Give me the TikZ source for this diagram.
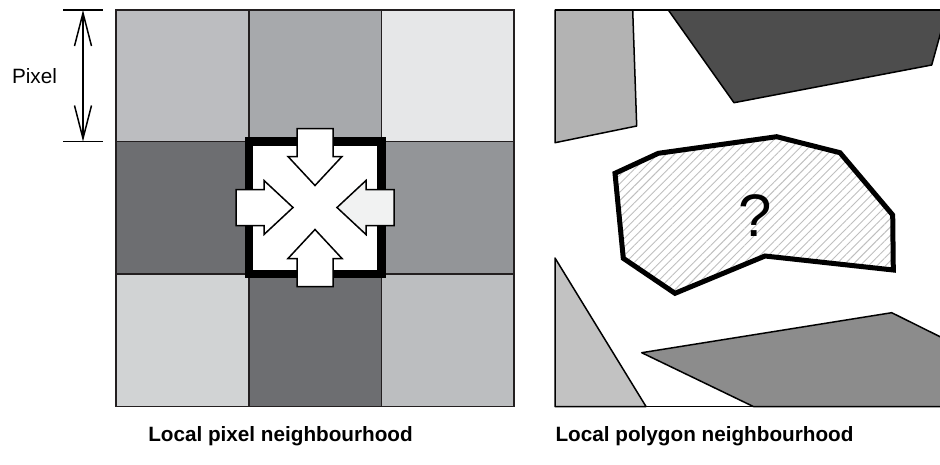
\documentclass[tikz,border=0pt]{standalone}
\usepackage{fontspec}
\setmainfont{Liberation Sans}
\usetikzlibrary{arrows.meta,patterns.meta}

\definecolor{gridline}{HTML}{231F20}
\definecolor{gA}{HTML}{BCBDC0}
\definecolor{gB}{HTML}{A7A9AC}
\definecolor{gC}{HTML}{E6E7E8}
\definecolor{gD}{HTML}{6D6E71}
\definecolor{gE}{HTML}{939598}
\definecolor{gF}{HTML}{D1D3D4}
\definecolor{gG}{HTML}{BCBEC0}
\definecolor{arrowTint}{HTML}{F1F2F2}
\definecolor{polyLight}{HTML}{B3B3B3}
\definecolor{polyLighter}{HTML}{C2C2C2}
\definecolor{polyDark}{HTML}{4D4D4D}
\definecolor{polyMid}{HTML}{8C8C8C}

\begin{document}
\begin{tikzpicture}[x=1pt,y=-1pt,
  cell/.style={draw=gridline, line width=1.5pt},
  blockarrow/.style={draw=black, fill=white, line width=1.5pt, line join=miter},
  poly/.style={draw=black, line width=1.5pt, line join=round},
  caption/.style={font=\fontsize{20.7}{24}\selectfont\bfseries, inner sep=0pt},
  dimline/.style={draw=black, line width=1.5pt},
  barbs/.style={{Straight Barb[length=33pt,width=17pt,line width=1.5pt]}-{Straight Barb[length=33pt,width=17pt,line width=1.5pt]}}
]
\useasboundingbox (0,0) rectangle (940,464);

% ---------- pixel grid ----------
\path[cell, fill=gA] (116,10)    rectangle (249,141.5);
\path[cell, fill=gB] (249,10)    rectangle (381.5,141.5);
\path[cell, fill=gC] (381.5,10)  rectangle (514,141.5);
\path[cell, fill=gD] (116,141.5) rectangle (249,274);
\path[cell, fill=white] (249,141.5) rectangle (381.5,274);
\path[cell, fill=gE] (381.5,141.5) rectangle (514,274);
\path[cell, fill=gF] (116,274)   rectangle (249,406.5);
\path[cell, fill=gD] (249,274)   rectangle (381.5,406.5);
\path[cell, fill=gG] (381.5,274) rectangle (514,406.5);

% centre pixel outline
\draw[line width=8.5pt, line join=miter] (249,141.5) rectangle (381.5,274);

% four inward block arrows (the one from the right is lightly tinted)
\foreach \ang/\col in {0/white,90/white,180/white,270/arrowTint}{
  \begin{scope}[shift={(315,207.5)}, rotate=\ang]
    \path[blockarrow, fill=\col] (-18,-79) -- (18,-79) -- (18,-51) -- (27,-51)
      -- (0,-22) -- (-27,-51) -- (-18,-51) -- cycle;
  \end{scope}
}

% ---------- pixel size dimension ----------
\coordinate (dimT) at (83,10);
\coordinate (dimB) at (83,141.5);
\draw[dimline] (63,10) -- (103,10);
\draw[dimline] (63,141.5) -- (103,141.5);
\draw[dimline, barbs] (dimT) -- (dimB);
\node[font=\fontsize{20.7}{24}\selectfont, inner sep=0pt] (pix) at (34.5,76) {Pixel};

% ---------- polygon neighbourhood ----------
\path[poly, fill=polyLight] (555,10) -- (632.7,10) -- (636.7,126) -- (555,142.7) -- cycle;
\path[poly, fill=polyDark] (668.3,10) -- (947,10) -- (931.7,65) -- (734,102.7) -- cycle;
\path[poly, fill=polyLighter] (555,258) -- (646,406.5) -- (555,406.5) -- cycle;
\path[poly, fill=polyMid] (641.7,352.7) -- (891.7,312.7) -- (960,346.6) -- (960,406.5) -- (753.3,406.5) -- cycle;
\draw[line width=1.5pt] (555,10) -- (953,10);
\draw[line width=1.5pt] (555,406.5) -- (953,406.5);

% unknown polygon
\path[pattern={Lines[angle=45,distance=6pt,line width=0.9pt]}, pattern color=black!25]
  (615,173.3) -- (658.3,153.3) -- (776.7,136.7) -- (840,152.7) -- (892.7,215)
  -- (893.3,270) -- (765,256) -- (675,293.3) -- (623.3,258.3) -- cycle;
\draw[line width=5pt, line join=miter]
  (615,173.3) -- (658.3,153.3) -- (776.7,136.7) -- (840,152.7) -- (892.7,215)
  -- (893.3,270) -- (765,256) -- (675,293.3) -- (623.3,258.3) -- cycle;
\node[font=\fontsize{60}{60}\selectfont, inner sep=0pt] (q) at (755,216) {?};

% ---------- captions ----------
\node[caption] (capL) at (280.5,436) {Local pixel neighbourhood};
\node[caption] (capR) at (704.5,436) {Local polygon neighbourhood};
\end{tikzpicture}
\end{document}
